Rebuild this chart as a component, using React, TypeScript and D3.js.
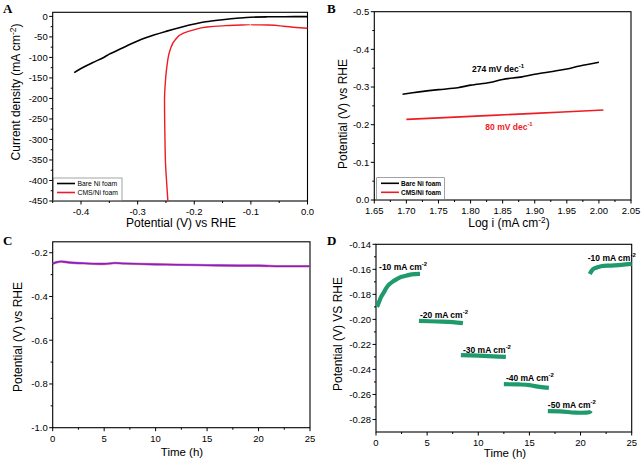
import React from "react";
import * as d3 from "d3";

// ---------- Panel A data ----------
const aBareX = [-0.412, -0.40, -0.38, -0.36, -0.35, -0.33, -0.30, -0.27, -0.25, -0.22, -0.20, -0.18, -0.15, -0.12, -0.10, -0.07, -0.04, 0.0];
const aBareY = [-137, -127, -113, -100, -92, -79, -60, -45, -36.5, -25, -18.5, -13, -8, -4, -2, -1, -0.7, -0.5];
const aCmsX = [-0.2466, -0.2490, -0.2505, -0.2519, -0.2525, -0.2510, -0.2483, -0.2425, -0.2336, -0.219, -0.201, -0.1775, -0.15, -0.13, -0.101, -0.07, -0.042, -0.02, 0.0];
const aCmsY = [-450, -400, -366, -285, -203, -160, -122, -81, -57, -41, -33, -26, -23, -21.5, -20.5, -21, -24, -27, -29];
const aXTicks = [-0.4, -0.3, -0.2, -0.1, 0.0];
const aYTicks = [0, -50, -100, -150, -200, -250, -300, -350, -400, -450];

// ---------- Panel B data ----------
const bBareX = [1.694, 1.72, 1.75, 1.78, 1.80, 1.83, 1.85, 1.88, 1.90, 1.93, 1.95, 1.97, 2.00];
const bBareY = [-0.281, -0.287, -0.293, -0.298, -0.305, -0.312, -0.320, -0.327, -0.334, -0.342, -0.348, -0.356, -0.366];
const bCmsX = [1.70, 1.80, 1.90, 2.007];
const bCmsY = [-0.214, -0.222, -0.230, -0.239];
const bXTicks = [1.65, 1.70, 1.75, 1.80, 1.85, 1.90, 1.95, 2.00, 2.05];
const bYTicks = [0.0, -0.1, -0.2, -0.3, -0.4, -0.5];

// ---------- Panel C data ----------
const cT = [0, 0.4, 0.8, 1.5, 3, 5, 6, 7, 10, 12, 15, 18, 20, 22, 23, 25];
const cV = [-0.250, -0.243, -0.240, -0.244, -0.248, -0.251, -0.247, -0.249, -0.253, -0.255, -0.257, -0.259, -0.259, -0.262, -0.262, -0.262];
const cXTicks = [0, 5, 10, 15, 20, 25];
const cYTicks = [-0.2, -0.4, -0.6, -0.8, -1.0];

// ---------- Panel D data ----------
const dSegT = [
  [0.1, 0.3, 0.5, 0.8, 1.0, 1.3, 1.6, 2.0, 2.5, 3.0, 3.5, 4.3],
  [4.2, 6, 7.5, 8.5],
  [8.3, 10, 11.5, 12.7],
  [12.5, 14, 15, 16, 16.9],
  [16.8, 18, 19.5, 20.5, 20.9, 21.0],
  [20.9, 21.2, 21.6, 22, 23, 24, 25],
];
const dSegV = [
  [-0.190, -0.186, -0.182, -0.178, -0.175, -0.172, -0.170, -0.168, -0.166, -0.165, -0.164, -0.1636],
  [-0.2012, -0.2017, -0.2022, -0.2030],
  [-0.2285, -0.2290, -0.2295, -0.2300],
  [-0.2518, -0.2520, -0.2525, -0.2540, -0.2548],
  [-0.2733, -0.2735, -0.2745, -0.2745, -0.2740, -0.2730],
  [-0.1637, -0.160, -0.1585, -0.1575, -0.157, -0.1565, -0.1557],
];
const dLabels = ["-10", "-20", "-30", "-40", "-50", "-10"];
const dLabelT = [0.3, 4.3, 8.5, 12.7, 16.8, 20.7];
const dLabelV = [-0.1605, -0.1985, -0.2265, -0.2495, -0.2710, -0.1535];
const dXTicks = [0, 5, 10, 15, 20, 25];
const dYTicks = [-0.14, -0.16, -0.18, -0.20, -0.22, -0.24, -0.26, -0.28];

const FONT = "'Liberation Sans', Arial, sans-serif";
const SERIF = "'Liberation Serif', 'Times New Roman', serif";

type AxisProps = {
  x: d3.ScaleLinear<number, number>;
  y: d3.ScaleLinear<number, number>;
  xTicks: number[];
  yTicks: number[];
  xMinor: number[];
  yMinor: number[];
  xFmt: (v: number) => string;
  yFmt: (v: number) => string;
};

function Frame({ x, y, xTicks, yTicks, xMinor, yMinor, xFmt, yFmt }: AxisProps) {
  const [x0, x1] = x.range();
  const [y0, y1] = y.range();
  const left = Math.min(x0, x1), right = Math.max(x0, x1);
  const top = Math.min(y0, y1), bottom = Math.max(y0, y1);
  return (
    <g>
      <rect x={left} y={top} width={right - left} height={bottom - top} fill="none" stroke="#000" strokeWidth={1.1} />
      {xTicks.map((t, i) => (
        <g key={"xt" + i}>
          <line x1={x(t)} x2={x(t)} y1={bottom} y2={bottom + 3.5} stroke="#000" strokeWidth={1} />
          <text x={x(t)} y={bottom + 14} textAnchor="middle" fontSize={9.5} fontFamily={FONT}>{xFmt(t)}</text>
        </g>
      ))}
      {xMinor.map((t, i) => (
        <line key={"xm" + i} x1={x(t)} x2={x(t)} y1={bottom} y2={bottom + 2} stroke="#000" strokeWidth={1} />
      ))}
      {yTicks.map((t, i) => (
        <g key={"yt" + i}>
          <line x1={left - 3.5} x2={left} y1={y(t)} y2={y(t)} stroke="#000" strokeWidth={1} />
          <text x={left - 5} y={y(t) + 3.4} textAnchor="end" fontSize={9.5} fontFamily={FONT}>{yFmt(t)}</text>
        </g>
      ))}
      {yMinor.map((t, i) => (
        <line key={"ym" + i} x1={left - 2} x2={left} y1={y(t)} y2={y(t)} stroke="#000" strokeWidth={1} />
      ))}
    </g>
  );
}

function mkLine(xs: number[], ys: number[], x: any, y: any) {
  const pts: [number, number][] = xs.map((v, i) => [v, ys[i]]);
  return d3.line<[number, number]>().x((d) => x(d[0])).y((d) => y(d[1])).curve(d3.curveMonotoneY)(pts) || "";
}
function mkLineX(xs: number[], ys: number[], x: any, y: any) {
  const pts: [number, number][] = xs.map((v, i) => [v, ys[i]]);
  return d3.line<[number, number]>().x((d) => x(d[0])).y((d) => y(d[1])).curve(d3.curveCatmullRom)(pts) || "";
}

function Sup({ children }: { children: React.ReactNode }) {
  return <tspan dy={-4} fontSize="70%">{children}</tspan>;
}

export default function App() {
  // Panel A
  const ax = d3.scaleLinear().domain([-0.45, 0]).range([52.7, 307.5]);
  const ay = d3.scaleLinear().domain([-450, 10]).range([201, 12.3]);
  // Panel B
  const bx = d3.scaleLinear().domain([1.65, 2.05]).range([374.3, 631]);
  const by = d3.scaleLinear().domain([0, -0.5]).range([200, 11.7]);
  // Panel C
  const cx = d3.scaleLinear().domain([0, 25]).range([52.7, 310]);
  const cy = d3.scaleLinear().domain([-1.0, -0.15]).range([427.7, 241.8]);
  // Panel D
  const dx = d3.scaleLinear().domain([0, 25]).range([376, 631.7]);
  const dy = d3.scaleLinear().domain([-0.29, -0.14]).range([432, 244.3]);

  const f1 = (v: number) => d3.format(".1f")(v).replace("−", "-");
  const f2 = (v: number) => d3.format(".2f")(v).replace("−", "-");
  const f0 = (v: number) => String(v);

  const aXMinor = d3.range(-0.45, 0, 0.1);
  const aYMinor = d3.range(-425, 0, 50);
  const bXMinor = d3.range(1.675, 2.05, 0.05);
  const bYMinor = d3.range(-0.05, -0.5, -0.1);
  const cXMinor = d3.range(2.5, 25, 5);
  const cYMinor = d3.range(-0.3, -1.0, -0.2);
  const dXMinor = d3.range(2.5, 25, 5);
  const dYMinor = d3.range(-0.15, -0.29, -0.02);

  const green = "#1f9b6b";

  return (
    <svg width={642} height={463} style={{ position: "absolute", left: 0, top: 0, background: "#fff" }} fontFamily={FONT}>
      <rect x={0} y={0} width={642} height={463} fill="#fff" />

      {/* ===== Panel A ===== */}
      <text x={3} y={13} fontFamily={SERIF} fontWeight="bold" fontSize={13}>A</text>
      <Frame x={ax} y={ay} xTicks={aXTicks} yTicks={aYTicks} xMinor={aXMinor} yMinor={aYMinor} xFmt={f1} yFmt={f0} />
      <path d={mkLineX(aBareX, aBareY, ax, ay)} fill="none" stroke="#000" strokeWidth={1.6} />
      <path d={mkLine(aCmsX, aCmsY, ax, ay)} fill="none" stroke="#ee1c25" strokeWidth={1.4} />
      <rect x={53.5} y={178} width={68.5} height={22.5} fill="#fff" stroke="#666" strokeWidth={0.6} />
      <line x1={57} x2={75} y1={183.5} y2={183.5} stroke="#000" strokeWidth={1.6} />
      <line x1={57} x2={75} y1={192.5} y2={192.5} stroke="#ee1c25" strokeWidth={1.6} />
      <text x={77.5} y={186} fontSize={6.8}>Bare Ni foam</text>
      <text x={77.5} y={195} fontSize={6.8}>CMS/Ni foam</text>
      <text x={181} y={227} textAnchor="middle" fontSize={12}>Potential (V) vs RHE</text>
      <text transform="translate(20,92) rotate(-90)" textAnchor="middle" fontSize={12}>
        Current density (mA cm<Sup>-2</Sup><tspan dy={4}>)</tspan>
      </text>

      {/* ===== Panel B ===== */}
      <text x={327} y={13} fontFamily={SERIF} fontWeight="bold" fontSize={13}>B</text>
      <Frame x={bx} y={by} xTicks={bXTicks} yTicks={bYTicks} xMinor={bXMinor} yMinor={bYMinor} xFmt={f2} yFmt={f1} />
      <path d={mkLineX(bBareX, bBareY, bx, by)} fill="none" stroke="#000" strokeWidth={1.6} />
      <path d={mkLineX(bCmsX, bCmsY, bx, by)} fill="none" stroke="#ee1c25" strokeWidth={1.6} />
      <text x={498} y={72} textAnchor="middle" fontSize={8.5} fontWeight="bold">274 mV dec<Sup>-1</Sup></text>
      <text x={509} y={130} textAnchor="middle" fontSize={8.5} fontWeight="bold" fill="#ee1c25">80 mV dec<Sup>-1</Sup></text>
      <rect x={376.7} y={177.7} width={67.6} height={21.6} fill="#fff" stroke="#666" strokeWidth={0.6} />
      <line x1={381} x2={399} y1={183.3} y2={183.3} stroke="#000" strokeWidth={1.6} />
      <line x1={381} x2={399} y1={192.3} y2={192.3} stroke="#ee1c25" strokeWidth={1.6} />
      <text x={401} y={186} fontSize={6.5} fontWeight="bold">Bare Ni foam</text>
      <text x={401} y={195} fontSize={6.5} fontWeight="bold">CMS/Ni foam</text>
      <text x={509} y={227} textAnchor="middle" fontSize={12}>
        Log i (mA cm<Sup>-2</Sup><tspan dy={4}>)</tspan>
      </text>
      <text transform="translate(347,114) rotate(-90)" textAnchor="middle" fontSize={12}>Potential (V) vs RHE</text>

      {/* ===== Panel C ===== */}
      <text x={3} y={245} fontFamily={SERIF} fontWeight="bold" fontSize={13}>C</text>
      <Frame x={cx} y={cy} xTicks={cXTicks} yTicks={cYTicks} xMinor={cXMinor} yMinor={cYMinor} xFmt={f0} yFmt={f1} />
      <path d={mkLineX(cT, cV, cx, cy)} fill="none" stroke="#f0506a" strokeWidth={2.6} opacity={0.7} />
      <path d={mkLineX(cT, cV, cx, cy)} fill="none" stroke="#7b22d4" strokeWidth={1.6} />
      <text x={182} y={456} textAnchor="middle" fontSize={11.5}>Time (h)</text>
      <text transform="translate(22,337) rotate(-90)" textAnchor="middle" fontSize={12}>Potential (V) vs RHE</text>

      {/* ===== Panel D ===== */}
      <text x={327} y={245} fontFamily={SERIF} fontWeight="bold" fontSize={13}>D</text>
      <Frame x={dx} y={dy} xTicks={dXTicks} yTicks={dYTicks} xMinor={dXMinor} yMinor={dYMinor} xFmt={f0} yFmt={f2} />
      {dSegT.map((ts, i) => (
        <path key={"ds" + i} d={mkLineX(ts, dSegV[i], dx, dy)} fill="none" stroke={green} strokeWidth={4.2} strokeLinecap="butt" />
      ))}
      {dLabels.map((l, i) => (
        <text key={"dl" + i} x={dx(dLabelT[i])} y={dy(dLabelV[i])} fontSize={8.5} fontWeight="bold">
          {l} mA cm<Sup>-2</Sup>
        </text>
      ))}
      <text x={505} y={457} textAnchor="middle" fontSize={11.5}>Time (h)</text>
      <text transform="translate(342,334) rotate(-90)" textAnchor="middle" fontSize={12}>Potential (V) VS RHE</text>
    </svg>
  );
}
